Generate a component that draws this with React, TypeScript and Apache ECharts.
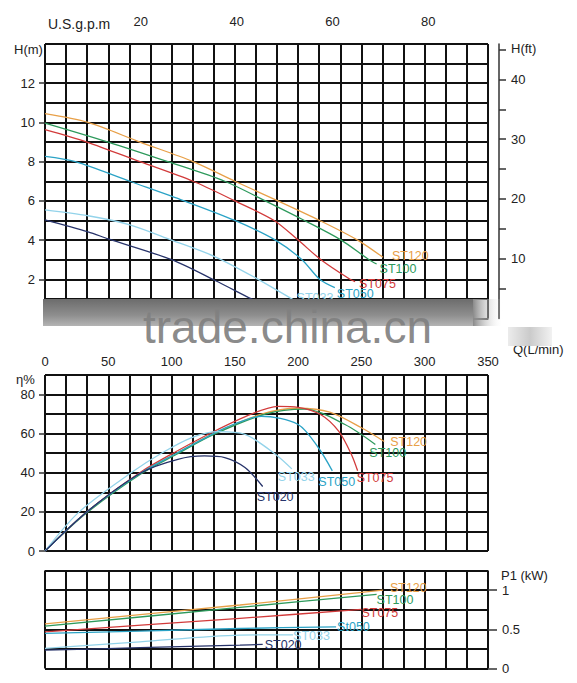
import React, { useEffect, useRef } from 'react';
import * as echarts from 'echarts';

// 型号与颜色
const models = ['ST120', 'ST100', 'ST075', 'ST050', 'ST033', 'ST020'];
const powerNames = ['ST120', 'ST100', 'ST075', 'St050', 'ST033', 'ST020'];
const colors = ['#E8A048', '#2E9A5C', '#D23B3B', '#2BA3C6', '#93D3EA', '#27336A'];

// 扬程 H(m) - Q(L/min)
const headST120 = [[0, 10.45], [34, 10.0], [75, 9.0], [117, 8.0], [150, 7.0], [184, 6.0], [217, 5.0], [247, 4.0], [267, 3.12]];
const headST100 = [[0, 9.97], [50, 9.0], [97, 8.0], [142, 7.0], [174, 6.0], [205, 5.0], [234, 4.0], [256, 3.0], [262, 2.78]];
const headST075 = [[0, 9.63], [33, 9.0], [75, 8.0], [117, 7.0], [150, 6.0], [181, 5.0], [200, 4.0], [218, 3.0], [241, 2.0], [245, 1.88]];
const headST050 = [[0, 8.27], [24, 8.0], [67, 7.0], [110, 6.0], [150, 5.0], [182, 4.0], [203, 3.0], [217, 2.0], [229, 1.57]];
const headST033 = [[0, 5.54], [34, 5.24], [67, 4.78], [100, 4.0], [134, 3.16], [167, 2.05], [195, 1.0], [198, 0.88]];
const headST020 = [[0, 5.03], [34, 4.42], [50, 4.06], [100, 3.0], [134, 1.95], [163, 1.0], [172, 0.72]];

// 效率 η%
const effST120 = [[0, 0], [33, 20], [76, 40], [104, 50], [133, 60], [171, 70], [200, 73], [225, 71], [250, 63], [268, 56]];
const effST100 = [[0, 0], [33, 19.5], [76, 39.5], [104, 49.5], [133, 59.5], [174, 70], [205, 72.6], [237, 64.7], [261, 54.5]];
const effST075 = [[0, 0], [33, 20], [76, 40.5], [104, 51], [133, 61], [163, 70], [184, 74], [200, 73.5], [218, 69.7], [232, 61.3], [242, 49.5], [247, 41]];
const effST050 = [[0, 0], [33, 20], [76, 40], [104, 50], [133, 60], [150, 65], [171, 68.9], [200, 64.7], [216, 52.8], [227, 41]];
const effST033 = [[0, 0], [27, 20], [68, 40], [92, 50], [116, 58], [137, 61], [158, 59.6], [182, 49.5], [195, 42]];
const effST020 = [[0, 0], [33, 20], [76, 40], [105, 46.9], [126, 48.6], [142, 47.8], [158, 42.7], [172, 33]];

// 功率 P1(kW)
const powST120 = [[0, 0.57], [154, 0.81], [267, 1.0]];
const powST100 = [[0, 0.54], [154, 0.78], [262, 0.946]];
const powST075 = [[0, 0.468], [154, 0.64], [250, 0.754]];
const powST050 = [[0, 0.447], [75, 0.477], [154, 0.51], [230, 0.532]];
const powST033 = [[0, 0.256], [75, 0.34], [154, 0.426], [196, 0.43]];
const powST020 = [[0, 0.234], [75, 0.265], [154, 0.298], [172, 0.307]];

// 刻度
const flowLabels = [0, 50, 100, 150, 200, 250, 300, 350];
const gpmLabels = [20, 40, 60, 80];
const gpmTicks = [0, 20, 40, 60, 80];
const headLabels = [2, 4, 6, 8, 10, 12];
const ftTicks = [5, 10, 15, 20, 25, 30, 35, 40, 45];
const ftLabels = [10, 20, 30, 40];
const effLabels = [0, 20, 40, 60, 80];
const powLabels = [0, 0.5, 1];

const headData = [headST120, headST100, headST075, headST050, headST033, headST020];
const effData = [effST120, effST100, effST075, effST050, effST033, effST020];
const powData = [powST120, powST100, powST075, powST050, powST033, powST020];

// 标签偏移（上图 ST020 标签被水印遮住，不显示）
const headOffsets = [[9, -1], [3, 5], [4, 2], [2, 6], [1, -3], null];
const effOffsets = [[6, 1], [-6, 9], [-1, 7], [-14, 11], [-14, 8], [-6, 11]];
const powOffsets = [[7, -2], [0, 6], [0, 4], [1, 0], [0, 1], [2, 1]];

const FONT = '"Liberation Sans", Arial, sans-serif';
const GRID_LINE = { show: true, lineStyle: { color: '#111', width: 2 } };
const AXIS_STROKE = { color: '#333', width: 1.5 };
const COL = 350 / 21;

// 只画网格线的隐藏轴
const gridAxis = (gridIndex: number, position: string, min: number, max: number, interval: number) => ({
  gridIndex, type: 'value', position, min, max, interval,
  axisLine: { show: false }, axisTick: { show: false }, axisLabel: { show: false },
  splitLine: GRID_LINE,
});

const App: React.FC = () => {
  const chartRef = useRef<HTMLDivElement>(null);

  useEffect(() => {
    if (!chartRef.current) return;
    const chart = echarts.init(chartRef.current, null, { renderer: 'svg' });

    const makeSeries = (
      data: number[][][], names: string[], xi: number, yi: number, offsets: (number[] | null)[]
    ) =>
      data.map((d, i) => ({
        name: names[i],
        type: 'line',
        xAxisIndex: xi,
        yAxisIndex: yi,
        data: d,
        smooth: 0.3,
        showSymbol: false,
        z: 5,
        lineStyle: { color: colors[i], width: 1.3 },
        endLabel: {
          show: offsets[i] !== null,
          formatter: names[i],
          color: colors[i],
          fontSize: 12.5,
          fontFamily: FONT,
          distance: 0,
          offset: offsets[i] || [0, 0],
        },
      }));

    const txt = (text: string, x: number, y: number, size = 13) => ({
      type: 'text',
      x,
      y,
      z: 110,
      style: {
        text,
        fill: '#222',
        font: `${size}px ${FONT}`,
        align: 'left',
        verticalAlign: 'middle',
      },
    });

    const options: any = {
      animation: false,
      backgroundColor: '#fff',
      textStyle: { fontFamily: FONT },
      grid: [
        { left: 45, top: 44, width: 443, height: 274.5 },
        { left: 45, top: 375, width: 443, height: 176 },
        { left: 45, top: 570.5, width: 443, height: 98 },
      ],
      xAxis: [
        gridAxis(0, 'bottom', 0, 350, COL),
        {
          gridIndex: 0, type: 'value', position: 'top', offset: 7,
          min: 0, max: 350 / 3.7854, interval: 20,
          axisLine: { show: true, lineStyle: AXIS_STROKE },
          axisTick: { show: true, length: 5, customValues: gpmTicks, lineStyle: AXIS_STROKE },
          axisLabel: { show: true, customValues: gpmLabels, margin: 9, fontSize: 13, color: '#222' },
          splitLine: { show: false },
        },
        gridAxis(1, 'bottom', 0, 350, COL),
        {
          gridIndex: 1, type: 'value', position: 'top', min: 0, max: 350, interval: 50,
          axisLine: { show: false }, axisTick: { show: false },
          axisLabel: { show: true, customValues: flowLabels, margin: 7, fontSize: 13, color: '#222' },
          splitLine: { show: false },
        },
        gridAxis(2, 'bottom', 0, 350, COL),
      ],
      yAxis: [
        gridAxis(0, 'left', 0, 14, 1),
        {
          gridIndex: 0, type: 'value', position: 'left', min: 0, max: 14, interval: 2,
          axisLine: { show: false },
          axisTick: { show: true, length: 6, customValues: headLabels, lineStyle: AXIS_STROKE },
          axisLabel: { show: true, customValues: headLabels, margin: 10, fontSize: 13, color: '#222' },
          splitLine: { show: false },
        },
        {
          gridIndex: 0, type: 'value', position: 'right', offset: 11,
          min: 0, max: 14 * 3.28084, interval: 5,
          axisLine: { show: true, lineStyle: AXIS_STROKE },
          axisTick: { show: true, length: 7, customValues: ftTicks, lineStyle: AXIS_STROKE },
          axisLabel: { show: true, customValues: ftLabels, margin: 12, fontSize: 13, color: '#222' },
          splitLine: { show: false },
        },
        gridAxis(1, 'left', 0, 90, 10),
        {
          gridIndex: 1, type: 'value', position: 'left', min: 0, max: 90, interval: 10,
          axisLine: { show: false },
          axisTick: { show: true, length: 6, customValues: effLabels, lineStyle: AXIS_STROKE },
          axisLabel: { show: true, customValues: effLabels, margin: 10, fontSize: 13, color: '#222' },
          splitLine: { show: false },
        },
        gridAxis(2, 'left', 0, 1.25, 0.25),
        {
          gridIndex: 2, type: 'value', position: 'right', min: 0, max: 1.25, interval: 0.25,
          axisLine: { show: false },
          axisTick: { show: true, length: 9, customValues: powLabels, lineStyle: AXIS_STROKE },
          axisLabel: { show: true, customValues: powLabels, margin: 14, fontSize: 13, color: '#222' },
          splitLine: { show: false },
        },
      ],
      series: [
        ...makeSeries(headData, models, 0, 0, headOffsets),
        ...makeSeries(effData, models, 2, 3, effOffsets),
        ...makeSeries(powData, powerNames, 4, 5, powOffsets),
      ],
      graphic: [
        txt('U.S.g.p.m', 48, 24, 14),
        txt('H(m)', 14, 49, 13),
        txt('H(ft)', 511, 48, 13),
        txt('η%', 16, 379, 13),
        txt('P1 (kW)', 501, 575, 13),
        txt('Q(L/min)', 513, 349, 13),
        {
          type: 'rect', z: 100,
          shape: { x: 43, y: 299, width: 430, height: 27 },
          style: {
            fill: new echarts.graphic.LinearGradient(0, 0, 0, 1, [
              { offset: 0, color: '#6c6c6c' },
              { offset: 0.6, color: '#8e8e8e' },
              { offset: 1, color: '#b4b4b4' },
            ]),
          },
        },
        {
          type: 'rect', z: 100,
          shape: { x: 473, y: 299, width: 30, height: 27 },
          style: {
            fill: new echarts.graphic.LinearGradient(0, 0, 1, 0, [
              { offset: 0, color: '#8a8a8a' },
              { offset: 1, color: 'rgba(255,255,255,0)' },
            ]),
          },
        },
        {
          type: 'rect', z: 112,
          shape: { x: 508, y: 327, width: 44, height: 19 },
          style: {
            fill: new echarts.graphic.LinearGradient(0, 0, 1, 0, [
              { offset: 0, color: 'rgba(235,235,235,0.95)' },
              { offset: 0.5, color: 'rgba(200,200,200,0.95)' },
              { offset: 1, color: 'rgba(240,240,240,0.9)' },
            ]),
          },
        },
        {
          type: 'text', x: 143, y: 327, z: 111,
          style: {
            text: 'trade.china.cn',
            fill: 'rgba(128,128,128,0.92)',
            font: `46px ${FONT}`,
            lineHeight: 34,
            align: 'left',
            verticalAlign: 'middle',
          },
        },
      ],
    };

    chart.setOption(options);

    return () => {
      chart.dispose();
    };
  }, []);

  return (
    <div
      ref={chartRef}
      style={{ position: 'absolute', left: 0, top: 0, width: '577px', height: '683px', background: '#fff' }}
    />
  );
};

export default App;
